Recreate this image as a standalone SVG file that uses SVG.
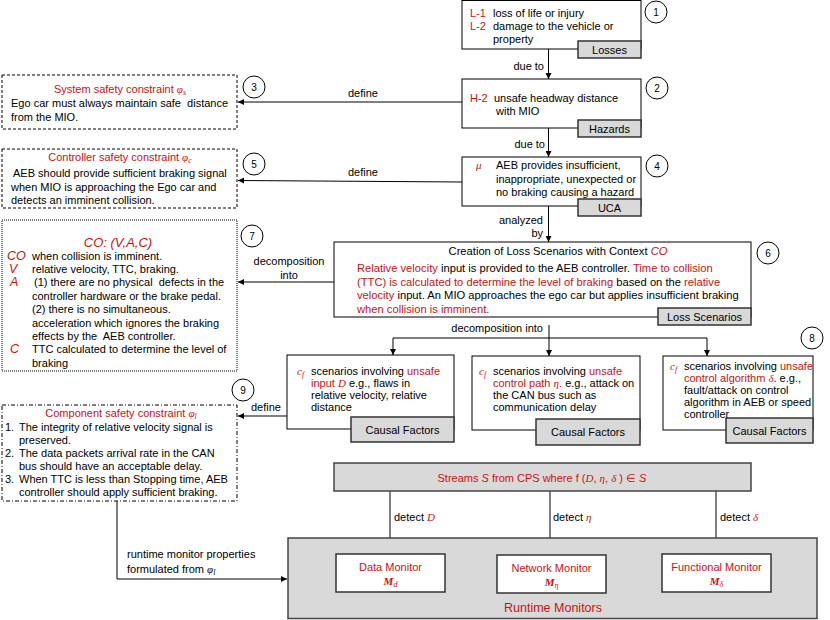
<svg xmlns="http://www.w3.org/2000/svg" width="830" height="620" viewBox="0 0 830 620">
<defs>
<marker id="ah" markerWidth="6" markerHeight="6" refX="6" refY="3" orient="auto" markerUnits="userSpaceOnUse">
<path d="M0,0 L6,3 L0,6 z" fill="#000"/>
</marker>
<style>
text { font-family: "Liberation Sans", Arial, Helvetica, sans-serif; font-size: 11px; fill: #000; }
.s11 { font-size: 11px; }
.ls { font-size: 11.2px; }
.r { fill: #cc1111; }
.m { font-family: "Liberation Serif", "Times New Roman", serif; font-style: italic; }
.ci { font-style: italic; }
.sub { font-size: 8px; }
.box { fill: #fff; stroke: #000; stroke-width: 1; }
.tab { fill: #d9d9d9; stroke: #333; stroke-width: 1.5; }
.gbox { fill: #d9d9d9; stroke: #444; stroke-width: 1.5; }
.mbox { fill: #fff; stroke: #333; stroke-width: 1.5; }
.dash { fill: #fff; stroke: #000; stroke-width: 1; stroke-dasharray: 3,2; }
.dot { fill: #fff; stroke: #000; stroke-width: 1; stroke-dasharray: 1,1; }
.dd { fill: #fff; stroke: #000; stroke-width: 1; stroke-dasharray: 4,2,1,2; }
.num circle { fill: #fff; stroke: #000; stroke-width: 1; }
.num text { font-size: 10px; text-anchor: middle; }
.conn path { fill: none; stroke: #000; stroke-width: 1; }
.arr { marker-end: url(#ah); }
.lbl { text-anchor: middle; }
</style>
</defs>

<g id="connectors" class="conn">
<path class="arr" d="M548.5,49 V79"/>
<path class="arr" d="M548.5,128 V157"/>
<path class="arr" d="M548.5,206 V242"/>
<path class="arr" d="M462,102 H238"/>
<path class="arr" d="M462,182 L238,180.5"/>
<path class="arr" d="M334,282 H238"/>
<path class="arr" d="M549,325 V356"/>
<path d="M393,338 H707"/>
<path class="arr" d="M393,338 V355"/>
<path class="arr" d="M707,338 V356"/>
<path class="arr" d="M287,416 H238"/>
<path class="arr" d="M117,501 V579 H287"/>
<path class="arr" d="M390,491 V554"/>
<path class="arr" d="M550,491 V555"/>
<path class="arr" d="M716,491 V555"/>
</g>

<g id="edge-labels">
<text x="544" y="70" text-anchor="end">due to</text>
<text x="545" y="148" text-anchor="end">due to</text>
<text x="543" y="224" text-anchor="end">analyzed</text>
<text x="543" y="237" text-anchor="end">by</text>
<text x="363" y="97" class="lbl">define</text>
<text x="363" y="176" class="lbl">define</text>
<text x="289" y="265" class="lbl">decomposition</text>
<text x="289" y="279" class="lbl">into</text>
<text x="543" y="332" text-anchor="end">decomposition into</text>
<text x="251" y="411">define</text>
<text x="127" y="558">runtime monitor properties</text>
<text x="127" y="573">formulated from <tspan class="m">φ</tspan><tspan class="m sub" dy="2">l</tspan></text>
<text x="394" y="521">detect <tspan class="r m">D</tspan></text>
<text x="553" y="521">detect <tspan class="r m">η</tspan></text>
<text x="720" y="521">detect <tspan class="r m">δ</tspan></text>
</g>

<g id="losses">
<rect class="box" x="462" y="0.5" width="179" height="48.5"/>
<text x="470" y="16.5" class="r">L-1</text>
<text x="493" y="16.5">loss of life or injury</text>
<text x="470" y="29.5" class="r">L-2</text>
<text x="493" y="29.5">damage to the vehicle or</text>
<text x="493" y="42.5">property</text>
<rect class="tab" x="578" y="41" width="63" height="17"/>
<text x="609.5" y="54" class="lbl">Losses</text>
</g>

<g id="hazards">
<rect class="box" x="462" y="79" width="179" height="49"/>
<text x="470" y="102" class="r">H-2</text>
<text x="494" y="102">unsafe headway distance</text>
<text x="496" y="115">with MIO</text>
<rect class="tab" x="578" y="120" width="63" height="17"/>
<text x="609.5" y="133" class="lbl">Hazards</text>
</g>

<g id="uca">
<rect class="box" x="462" y="157" width="179" height="49"/>
<text x="476" y="169" class="r m">μ</text>
<text x="496" y="169">AEB provides insufficient,</text>
<text x="496" y="182.5">inappropriate, unexpected or</text>
<text x="496" y="196">no braking causing a hazard</text>
<rect class="tab" x="578" y="199" width="63" height="17"/>
<text x="609.5" y="212" class="lbl">UCA</text>
</g>

<g id="system-constraint">
<rect class="dash" x="2" y="75" width="235" height="54"/>
<text x="120" y="93" class="lbl r">System safety constraint <tspan class="m">φ</tspan><tspan class="m sub" dy="2">s</tspan></text>
<text x="11" y="107" xml:space="preserve">Ego car must always maintain safe  distance</text>
<text x="11" y="120.5">from the MIO.</text>
</g>

<g id="controller-constraint">
<rect class="dash" x="2" y="149" width="235" height="59"/>
<text x="120" y="161" class="lbl r">Controller safety constraint <tspan class="m">φ</tspan><tspan class="m sub" dy="2">c</tspan></text>
<text x="13" y="177">AEB should provide sufficient braking signal</text>
<text x="11" y="190.5">when MIO is approaching the Ego car and</text>
<text x="11" y="204">detects an imminent collision.</text>
</g>

<g id="context">
<rect class="dot" x="2" y="220" width="235" height="151"/>
<text x="118" y="246.5" class="lbl r ci" style="font-size:13px">CO: (V,A,C)</text>
<text x="7" y="259.5" class="r ci" style="font-size:12.5px">CO</text>
<text x="32" y="259.5">when collision is imminent.</text>
<text x="9" y="273" class="r ci" style="font-size:12.5px">V</text>
<text x="32" y="273">relative velocity, TTC, braking.</text>
<text x="10" y="286.4" class="r ci" style="font-size:12.5px">A</text>
<text x="34" y="286.4" xml:space="preserve">(1) there are no physical  defects in the</text>
<text x="32" y="299.8">controller hardware or the brake pedal.</text>
<text x="32" y="313.2">(2) there is no simultaneous.</text>
<text x="32" y="326.6">acceleration which ignores the braking</text>
<text x="32" y="340" xml:space="preserve">effects by the  AEB controller.</text>
<text x="10" y="353.4" class="r ci" style="font-size:12.5px">C</text>
<text x="32" y="353.4">TTC calculated to determine the level of</text>
<text x="32" y="366.8">braking</text>
</g>

<g id="loss-scenarios">
<rect class="box" x="334" y="242" width="417" height="75"/>
<text x="558" y="254.5" class="lbl ls">Creation of Loss Scenarios with Context <tspan class="r ci">CO</tspan></text>
<text x="357" y="272" class="ls"><tspan class="r">Relative velocity</tspan> input is provided to the AEB controller. <tspan class="r">Time to collision</tspan></text>
<text x="357" y="285.5" class="ls"><tspan class="r">(TTC) is calculated to determine the level of braking</tspan> based on the <tspan class="r">relative</tspan></text>
<text x="357" y="299" class="ls"><tspan class="r">velocity</tspan> input. An MIO approaches the ego car but applies insufficient braking</text>
<text x="357" y="312.5" class="r ls">when collision is imminent.</text>
<rect class="tab" x="658" y="308" width="93" height="17"/>
<text x="704.5" y="321" class="lbl">Loss Scenarios</text>
</g>

<g id="cf-input">
<rect class="box" x="287" y="355" width="167" height="74"/>
<text x="297" y="375" class="r m">c<tspan class="sub" dy="2">f</tspan></text>
<text x="311" y="375">scenarios involving <tspan class="r">unsafe</tspan></text>
<text x="311" y="387"><tspan class="r">input <tspan class="m">D</tspan></tspan> e.g., flaws in</text>
<text x="311" y="399">relative velocity, relative</text>
<text x="311" y="411">distance</text>
<rect class="tab" x="351" y="417" width="103" height="25"/>
<text x="402.5" y="433.5" class="lbl">Causal Factors</text>
</g>

<g id="cf-path">
<rect class="box" x="472" y="356" width="168" height="74"/>
<text x="479" y="375" class="r m">c<tspan class="sub" dy="2">f</tspan></text>
<text x="493" y="375">scenarios involving <tspan class="r">unsafe</tspan></text>
<text x="493" y="387"><tspan class="r">control path <tspan class="m">η</tspan>.</tspan> e.g., attack on</text>
<text x="493" y="399">the CAN bus such as</text>
<text x="493" y="411">communication delay</text>
<rect class="tab" x="536" y="419" width="104" height="26"/>
<text x="588" y="436" class="lbl">Causal Factors</text>
</g>

<g id="cf-algorithm">
<rect class="box" x="663" y="356" width="150" height="74"/>
<text x="670" y="370" class="r m">c<tspan class="sub" dy="2">f</tspan></text>
<text x="684" y="370">scenarios involving <tspan class="r">unsafe</tspan></text>
<text x="684" y="382"><tspan class="r">control algorithm <tspan class="m">δ</tspan></tspan>. e.g.,</text>
<text x="684" y="394">fault/attack on control</text>
<text x="684" y="406">algorithm in AEB or speed</text>
<text x="684" y="418">controller</text>
<rect class="tab" x="726" y="418" width="87" height="25"/>
<text x="769.5" y="434.5" class="lbl">Causal Factors</text>
</g>

<g id="component-constraint">
<rect class="dd" x="2" y="405" width="235" height="96"/>
<text x="121" y="417" class="lbl r">Component safety constraint <tspan class="m">φ</tspan><tspan class="m sub" dy="2">l</tspan></text>
<text x="5" y="430.7">1.</text>
<text x="19" y="430.7">The integrity of relative velocity signal is</text>
<text x="19" y="443.7">preserved.</text>
<text x="5" y="456.7">2.</text>
<text x="19" y="456.7">The data packets arrival rate in the CAN</text>
<text x="19" y="469.7">bus should have an acceptable delay.</text>
<text x="5" y="482.7">3.</text>
<text x="19" y="482.7">When TTC is less than Stopping time, AEB</text>
<text x="19" y="495.7">controller should apply sufficient braking.</text>
</g>

<g id="streams">
<rect class="gbox" x="334" y="463" width="417" height="28"/>
<text x="542" y="482" class="lbl r">Streams <tspan class="ci">S</tspan> from CPS where f (<tspan class="m">D</tspan>, <tspan class="m">η</tspan>, <tspan class="m">δ</tspan> ) ∈ <tspan class="ci">S</tspan></text>
</g>

<g id="runtime-monitors">
<rect class="gbox" x="288" y="538" width="529" height="80.5"/>
<text x="553" y="612" class="lbl r" style="font-size:12.5px">Runtime Monitors</text>
</g>

<g id="data-monitor">
<rect class="mbox" x="336" y="554" width="109" height="38"/>
<text x="390.5" y="571" class="lbl r">Data Monitor</text>
<text x="390.5" y="585" class="lbl r m" style="font-weight:bold">M<tspan class="sub" dy="2" style="font-weight:normal">d</tspan></text>
</g>

<g id="network-monitor">
<rect class="mbox" x="497" y="555" width="109" height="38"/>
<text x="551.5" y="572" class="lbl r">Network Monitor</text>
<text x="551.5" y="586" class="lbl r m" style="font-weight:bold">M<tspan class="sub" dy="2" style="font-weight:normal">η</tspan></text>
</g>

<g id="functional-monitor">
<rect class="mbox" x="662" y="554" width="109" height="38"/>
<text x="716.5" y="571" class="lbl r">Functional Monitor</text>
<text x="716.5" y="585" class="lbl r m" style="font-weight:bold">M<tspan class="sub" dy="2" style="font-weight:normal">δ</tspan></text>
</g>

<g id="step-numbers" class="num">
<circle cx="656" cy="12" r="11"/><text x="656" y="15.5">1</text>
<circle cx="657" cy="88" r="11"/><text x="657" y="91.5">2</text>
<circle cx="254" cy="87" r="11"/><text x="254" y="90.5">3</text>
<circle cx="657" cy="166" r="11"/><text x="657" y="169.5">4</text>
<circle cx="254" cy="164" r="11"/><text x="254" y="167.5">5</text>
<circle cx="768" cy="253" r="11"/><text x="768" y="256.5">6</text>
<circle cx="252" cy="236" r="11"/><text x="252" y="239.5">7</text>
<circle cx="812" cy="338" r="11"/><text x="812" y="341.5">8</text>
<circle cx="243" cy="390" r="11"/><text x="243" y="393.5">9</text>
</g>
</svg>
